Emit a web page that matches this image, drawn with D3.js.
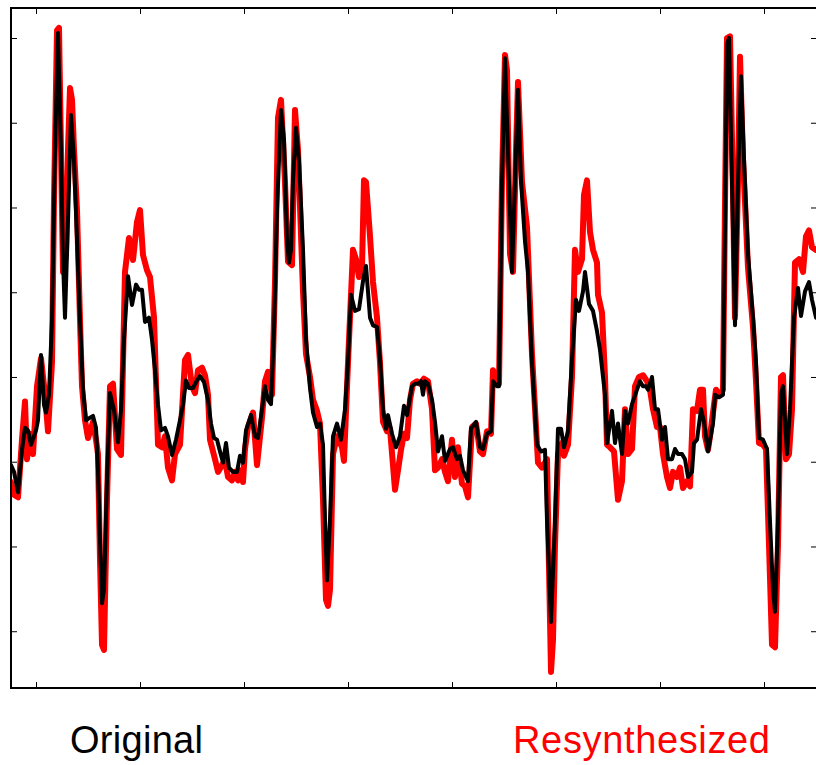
<!DOCTYPE html>
<html>
<head>
<meta charset="utf-8">
<script src="https://cdn.jsdelivr.net/npm/d3@7"></script>
<style>
  body { margin: 0; background: #fff; }
  svg { display: block; }
</style>
</head>
<body>
<script>
// frequency (Hz) and level (dB)
var origHz = [0,30,70,110,140,170,200,250,270,300,330,350,380,410,440,470,500,520,540,570,600,630,660,690,720,750,790,820,850,870,890,910,930,960,990,1030,1070,1100,1130,1170,1210,1250,1280,1310,1340,1380,1410,1440,1470,1500,1540,1570,1610,1650,1690,1720,1750,1780,1820,1860,1890,1930,1970,2000,2030,2060,2090,2120,2150,2180,2220,2260,2290,2320,2350,2400,2440,2470,2510,2540,2570,2600,2630,2660,2700,2730,2760,2780,2800,2820,2850,2880,2920,2950,2990,3020,3060,3090,3120,3140,3160,3190,3220,3260,3300,3340,3370,3400,3440,3480,3520,3550,3590,3620,3660,3690,3720,3750,3770,3810,3850,3890,3930,3960,4010,4040,4070,4100,4120,4140,4170,4210,4240,4270,4310,4340,4390,4420,4460,4490,4520,4570,4600,4650,4690,4720,4760,4800,4820,4860,4880,4910,4940,4980,5010,5040,5070,5100,5140,5170,5210,5260,5300,5340,5360,5400,5440,5470,5500,5530,5570,5610,5650,5680,5720,5740,5780,5820,5860,5890,5940,5960,6010,6040,6070,6110,6140,6170,6210,6260,6290,6320,6350,6370,6410,6440,6470,6510,6540,6570,6610,6640,6670,6710,6740,6770,6810,6830,6860,6900,6930,6970,7020,7040,7080,7120,7140,7160,7180,7210,7240,7270,7300,7330,7370,7420,7450,7480,7520,7560,7590,7620,7640,7670,7700,7720,7760,7790,7830,7870,7900,7940,7980,8010,8050];
var origDb = [29.6,28.8,26.4,31.4,34.0,33.7,32.0,33.7,34.9,42.6,36.7,35.8,37.9,46.7,66.8,80.6,66.8,53.8,47.0,58.5,70.9,65.6,56.2,46.7,38.5,34.9,35.2,35.4,34.0,29.0,20.8,13.3,14.9,27.8,38.1,36.1,32.3,36.1,44.4,51.9,48.5,50.9,50.3,50.3,46.5,47.0,44.4,40.8,36.7,33.7,34.0,33.0,30.8,32.6,34.9,36.7,39.6,38.7,38.7,39.6,40.1,39.4,37.3,34.5,32.8,32.6,31.2,29.9,32.2,29.3,28.8,28.8,30.7,29.9,33.7,35.5,33.0,32.8,36.2,38.9,37.3,36.8,45.5,59.7,71.5,68.0,56.2,53.5,55.0,63.2,69.4,65.6,55.0,44.4,38.7,35.8,34.1,34.5,32.0,23.1,16.0,23.1,33.0,34.5,32.6,36.2,41.7,49.7,47.8,48.0,51.3,53.1,47.0,46.1,45.9,42.1,36.2,33.9,35.5,33.3,31.7,33.0,36.6,35.5,38.9,39.2,39.2,39.5,37.9,39.5,39.2,37.3,34.7,31.2,33.0,30.1,31.5,31.7,30.3,30.7,29.0,27.7,33.9,34.7,31.7,31.5,33.3,33.6,39.5,38.9,38.9,63.0,77.6,63.0,52.4,63.0,73.9,63.2,56.0,52.4,41.7,32.0,31.2,31.4,23.1,11.1,22.9,33.9,33.9,31.7,33.6,42.1,49.1,47.8,50.1,52.4,48.6,47.8,45.4,43.2,37.9,32.2,36.0,32.2,34.5,30.9,36.0,34.5,36.8,38.5,39.5,38.9,38.9,38.5,40.0,36.2,36.2,32.6,34.1,30.3,30.3,31.5,30.9,30.9,30.3,28.2,28.8,32.2,32.6,36.2,34.7,31.2,34.5,37.9,37.6,37.9,57.7,79.2,80.0,63.0,46.1,63.0,75.5,65.7,54.5,47.0,41.7,32.8,32.6,31.5,22.9,14.9,12.3,22.9,37.9,38.9,30.9,36.2,47.0,50.5,47.2,50.1,51.2,49.1,47.0];

var resynHz = [0,30,70,110,140,160,190,220,260,300,340,370,410,430,460,480,500,520,550,570,590,610,630,660,690,710,740,770,820,850,870,890,910,930,960,990,1020,1060,1100,1140,1180,1220,1260,1290,1320,1360,1390,1430,1470,1510,1540,1570,1610,1640,1690,1740,1770,1810,1840,1870,1910,1940,1970,1990,2040,2070,2110,2140,2170,2210,2240,2270,2300,2320,2340,2370,2420,2460,2510,2540,2570,2610,2640,2670,2700,2740,2770,2810,2840,2870,2920,2950,2990,3020,3060,3090,3120,3150,3170,3190,3220,3260,3310,3330,3370,3420,3450,3480,3510,3530,3550,3590,3620,3660,3690,3720,3760,3790,3840,3870,3900,3930,3960,3990,4020,4060,4090,4130,4170,4210,4240,4270,4310,4340,4370,4410,4440,4470,4510,4540,4570,4610,4650,4690,4720,4760,4800,4820,4860,4880,4910,4940,4960,4990,5020,5050,5070,5110,5160,5210,5270,5310,5360,5380,5400,5420,5440,5470,5510,5530,5570,5610,5640,5670,5710,5730,5760,5790,5820,5860,5870,5910,5940,5960,5990,6030,6070,6110,6140,6170,6210,6240,6280,6320,6360,6390,6420,6460,6490,6520,6560,6590,6620,6660,6690,6720,6760,6790,6820,6860,6890,6920,6940,6970,6990,7020,7050,7090,7120,7140,7160,7190,7220,7240,7270,7290,7320,7370,7420,7450,7480,7520,7550,7580,7610,7640,7670,7700,7720,7750,7780,7810,7840,7880,7920,7950,7980,8010,8050];
var resynDb = [27.6,26.1,25.8,32.6,37.1,30.3,33.3,30.9,38.9,42.2,37.9,33.6,41.7,60.9,80.9,81.2,66.8,52.4,54.5,66.8,74.1,72.7,66.8,59.7,46.7,38.9,34.9,32.8,34.7,32.6,30.9,18.4,8.4,7.8,25.5,38.9,39.2,31.5,30.8,52.4,56.4,53.8,58.3,59.7,54.4,52.6,51.8,47.0,32.0,31.7,33.0,29.3,27.8,30.9,32.0,42.0,42.6,38.9,38.1,40.8,41.1,40.2,37.9,32.6,30.3,28.8,29.6,30.2,28.2,27.8,28.8,27.8,29.0,27.6,31.5,34.1,35.8,29.6,35.2,39.5,40.6,37.9,51.2,70.6,72.7,63.0,53.6,53.2,71.5,66.8,50.1,42.7,40.0,37.3,36.0,34.5,25.6,13.7,13.0,14.9,30.9,33.0,31.7,30.1,41.7,55.0,53.9,51.8,52.9,63.2,63.0,56.6,51.2,47.0,41.7,34.7,33.6,33.9,26.7,29.0,31.4,33.3,32.8,37.3,39.2,39.5,39.2,39.8,39.5,36.2,29.0,29.3,30.3,28.8,27.7,32.6,28.2,31.7,27.4,27.1,25.8,34.1,34.5,31.2,30.9,33.6,33.3,40.8,39.2,39.2,63.0,78.0,76.2,54.5,52.4,66.8,74.8,63.0,57.7,42.7,29.9,29.3,30.3,17.5,5.2,9.0,20.2,30.9,32.2,30.7,32.0,40.0,55.0,52.4,53.9,61.5,63.2,57.1,55.0,53.5,49.7,47.6,40.0,32.0,31.7,31.2,25.5,27.7,36.2,30.9,31.5,38.9,40.0,40.2,39.5,38.5,36.2,34.1,34.1,30.9,28.2,26.9,28.8,28.2,29.3,26.9,27.7,27.1,36.2,36.0,38.5,38.5,33.0,31.4,33.0,35.8,38.5,37.9,38.5,60.4,80.0,80.2,61.9,47.0,63.0,77.8,65.7,52.9,45.9,39.5,32.2,32.0,31.5,20.2,8.4,8.1,20.2,40.0,40.2,30.3,30.9,36.2,53.5,53.9,52.4,56.6,57.3,55.3,55.0];

// unlabeled ticks
var xTicks = [250, 1290, 2330, 3370, 4410, 5450, 6490, 7530];
var yTicks = [10, 20, 30, 40, 50, 60, 70, 80];

var width = 816, height = 765;
var margin = { left: 11, right: 817, top: 8, bottom: 688 };

var svg = d3.select("body").append("svg")
    .attr("width", width)
    .attr("height", height);

var x = d3.scaleLinear().domain([0, 8060]).range([margin.left, margin.right]);
var y = d3.scaleLinear().domain([3.3, 83.54]).range([margin.bottom, margin.top]);

svg.append("clipPath").attr("id", "plot")
  .append("rect")
    .attr("x", margin.left).attr("y", margin.top)
    .attr("width", margin.right - margin.left).attr("height", margin.bottom - margin.top);

var line = d3.line()
    .x(function(d) { return x(d[0]); })
    .y(function(d) { return y(d[1]); });

var resyn = d3.zip(resynHz, resynDb);
var orig = d3.zip(origHz, origDb);

var lines = svg.append("g").attr("clip-path", "url(#plot)");

// resynthesized underneath, original on top
lines.append("path")
    .attr("d", line(resyn))
    .attr("fill", "none")
    .attr("stroke", "#ff0000")
    .attr("stroke-width", 6)
    .attr("stroke-linejoin", "round")
    .attr("stroke-linecap", "round");

lines.append("path")
    .attr("d", line(orig))
    .attr("fill", "none")
    .attr("stroke", "#000")
    .attr("stroke-width", 4)
    .attr("stroke-linejoin", "round")
    .attr("stroke-linecap", "round");

// inward ticks on all four sides
function styleAxis(g) {
  g.select(".domain").remove();
  g.selectAll(".tick line").attr("stroke", "#000").attr("stroke-width", 1);
}

svg.append("g").attr("transform", "translate(0," + margin.bottom + ")")
    .call(d3.axisBottom(x).tickValues(xTicks).tickSize(-6).tickFormat(""))
    .call(styleAxis);
svg.append("g").attr("transform", "translate(0," + margin.top + ")")
    .call(d3.axisTop(x).tickValues(xTicks).tickSize(-6).tickFormat(""))
    .call(styleAxis);
svg.append("g").attr("transform", "translate(" + margin.left + ",0)")
    .call(d3.axisLeft(y).tickValues(yTicks).tickSize(-6).tickFormat(""))
    .call(styleAxis);
svg.append("g").attr("transform", "translate(" + margin.right + ",0)")
    .call(d3.axisRight(y).tickValues(yTicks).tickSize(-6).tickFormat(""))
    .call(styleAxis);

// frame
svg.append("rect")
    .attr("x", margin.left).attr("y", margin.top)
    .attr("width", margin.right - margin.left).attr("height", margin.bottom - margin.top)
    .attr("fill", "none")
    .attr("stroke", "#000")
    .attr("stroke-width", 2);

// legend labels
svg.append("text")
    .attr("x", 70).attr("y", 753)
    .attr("font-family", "Liberation Sans, Arial, sans-serif")
    .attr("font-size", 38)
    .attr("textLength", 133)
    .attr("fill", "#000")
    .text("Original");

svg.append("text")
    .attr("x", 513).attr("y", 753)
    .attr("font-family", "Liberation Sans, Arial, sans-serif")
    .attr("font-size", 38)
    .attr("textLength", 257)
    .attr("fill", "#ff0000")
    .text("Resynthesized");
</script>
</body>
</html>
